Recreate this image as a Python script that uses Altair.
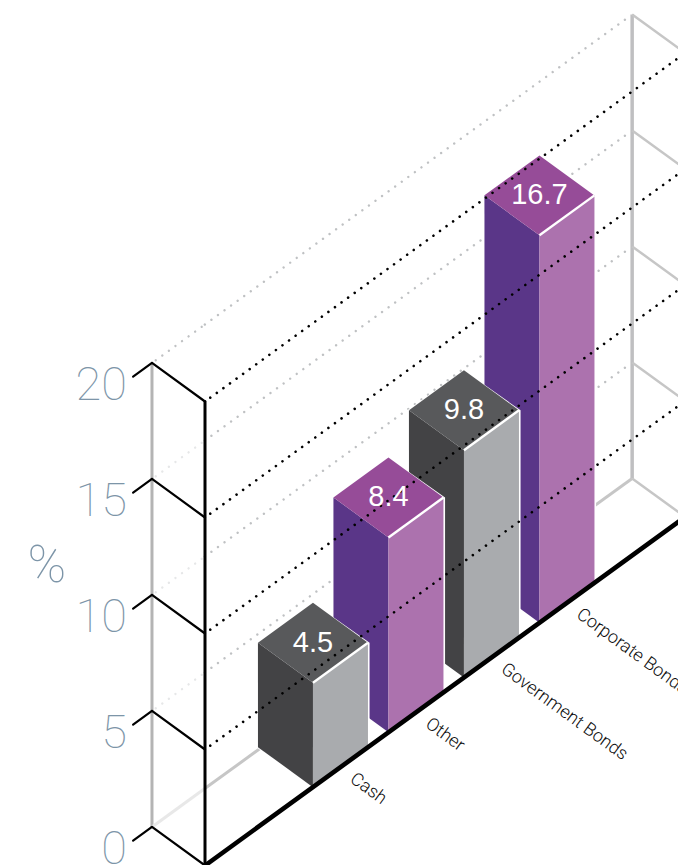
import altair as alt
import pandas as pd

# Chart values
categories = ["Cash", "Other", "Government Bonds", "Corporate Bonds"]
values = [4.5, 8.4, 9.8, 16.7]
value_labels = ["4.5", "8.4", "9.8", "16.7"]
axis_ticks = [0, 5, 10, 15, 20]
grid_levels = [5, 10, 15, 20]
bar_families = ["grey", "purple", "grey", "purple"]
face_colours = {
    "grey": {"left": "#434345", "right": "#a9abae", "top": "#58595b"},
    "purple": {"left": "#5a3688", "right": "#ac72ae", "top": "#964c98"},
}

# Oblique projection: pixels per category step, per percent, and per unit of depth
W, H = 678, 865
STEP_X, STEP_Y = 75.5, 54.8
UNIT_Y = 23.2
DEPTH_X, DEPTH_Y = 55.0, 40.0
ORIGIN_X, ORIGIN_Y = 205.0, 865.5
BAR_START = 1.43
BAR_WIDTH = DEPTH_X / STEP_X
WALL_DEPTH = 0.964
WALL_LENGTH = 6.36


def project(c, d, v):
    """Map (position along the front edge, depth, percent) to plane coordinates."""
    return c - d * DEPTH_X / STEP_X, v + (c * STEP_Y + d * DEPTH_Y) / UNIT_Y


x_scale = alt.Scale(domain=[-ORIGIN_X / STEP_X, (W - ORIGIN_X) / STEP_X], range=[0, W], nice=False, zero=False)
y_scale = alt.Scale(domain=[(ORIGIN_Y - H) / UNIT_Y, ORIGIN_Y / UNIT_Y], range=[H, 0], nice=False, zero=False)
x_enc = alt.X("x:Q", scale=x_scale, axis=None)
y_enc = alt.Y("y:Q", scale=y_scale, axis=None)


def segment(p, q, colour, width):
    x, y = project(*p)
    x2, y2 = project(*q)
    return {"x": x, "y": y, "x2": x2, "y2": y2, "colour": colour, "width": width}


def rules(segments, **mark_args):
    return alt.Chart(pd.DataFrame(segments)).mark_rule(**mark_args).encode(
        x=x_enc,
        y=y_enc,
        x2="x2:Q",
        y2="y2:Q",
        color=alt.Color("colour:N", scale=None),
        strokeWidth=alt.StrokeWidth("width:Q", scale=None),
    )


# Dotted grid on the back wall, fainter in front of the axis corner
back_dots = []
for v in grid_levels:
    left_colour = "#bfc1c3" if v == 20 else "#e6e7e8"
    back_dots.append(segment((0.05, WALL_DEPTH, v), (0.70, WALL_DEPTH, v), left_colour, 2.4))
    back_dots.append(segment((0.70, WALL_DEPTH, v), (6.27, WALL_DEPTH, v), "#bfc1c3", 2.4))

# Solid grey wall frame
wall_lines = [
    segment((0, WALL_DEPTH, 0), (0, WALL_DEPTH, 20), "#b4b4b4", 3),
    segment((WALL_LENGTH, WALL_DEPTH, 0), (WALL_LENGTH, WALL_DEPTH, 20), "#bfbfc1", 3.5),
    segment((0, WALL_DEPTH, 0), (0.70, WALL_DEPTH, 0), "#e8e8e8", 3),
    segment((0.70, WALL_DEPTH, 0), (WALL_LENGTH, WALL_DEPTH, 0), "#c6c6c6", 3),
]
for v in axis_ticks:
    wall_lines.append(segment((WALL_LENGTH, WALL_DEPTH, v), (WALL_LENGTH, 0, v), "#c6c6c6", 2.5))

# Bar faces, far bar first so nearer bars overlap it
face_rows = []
edge_lines = []


def add_face(face, fill, columns):
    """One area per face: each column holds an upper point, a lower point and an x nudge."""
    for upper, lower, nudge in columns:
        x, y = project(*upper)
        _, y2 = project(*lower)
        face_rows.append({"x": x + nudge, "y": y, "y2": y2, "face": face, "fill": fill})


halo = 1.6 / STEP_X
for i in reversed(range(len(values))):
    c0 = BAR_START + i
    c1 = c0 + BAR_WIDTH
    v = values[i]
    palette = face_colours[bar_families[i]]
    key = len(values) - i

    # White halo around the silhouette
    add_face(f"{key}-a", "#ffffff", [
        ((c0, 1, v), (c0, 1, 0), -halo),
        ((c1, 1, v), (c0, 0, 0), 0),
        ((c1, 0, v), (c1, 0, 0), halo),
    ])
    add_face(f"{key}-b", palette["left"], [
        ((c0, 1, v), (c0, 1, 0), 0),
        ((c0, 0, v), (c0, 0, 0), 0),
    ])
    add_face(f"{key}-c", palette["right"], [
        ((c0, 0, v), (c0, 0, 0), 0),
        ((c1, 0, v), (c1, 0, 0), 0),
    ])
    add_face(f"{key}-d", palette["top"], [
        ((c0, 1, v), (c0, 1, v), 0),
        ((c1, 1, v), (c0, 0, v), 0),
        ((c1, 0, v), (c1, 0, v), 0),
    ])
    edge_lines.append(segment((c0, 0, v), (c1, 0, v), "#ffffff", 2.4))

faces = alt.Chart(pd.DataFrame(face_rows)).mark_area(interpolate="linear", opacity=1).encode(
    x=x_enc,
    y=y_enc,
    y2="y2:Q",
    color=alt.Color("fill:N", scale=None),
    detail="face:N",
)

# Black dotted levels running across the whole chart, over the bars
front_dots = [segment((0.07, 0, v), (6.4, 0, v), "#000000", 2.6) for v in grid_levels]

# Black frame: front axis, base line and the chevron at every tick
black_lines = [
    segment((0, 0, 0), (0, 0, 20), "#000000", 3),
    segment((0, 0, 0), (WALL_LENGTH, 0, 0), "#000000", 4.6),
]
for v in axis_ticks:
    black_lines.append(segment((-0.25, WALL_DEPTH, v), (0, WALL_DEPTH, v), "#000000", 2.2))
    black_lines.append(segment((0, WALL_DEPTH, v), (0, 0, v), "#000000", 2.2))

# Text layers
tick_positions = [project(0, WALL_DEPTH, v) for v in axis_ticks]
tick_frame = pd.DataFrame({
    "x": [p[0] for p in tick_positions],
    "y": [p[1] for p in tick_positions],
    "label": [str(v) for v in axis_ticks],
})
tick_text = alt.Chart(tick_frame).mark_text(
    font="Roboto", fontWeight=100, fontSize=47, color="#7d95a8", align="right", baseline="middle", dx=-25, dy=23
).encode(x=x_enc, y=y_enc, text="label:N")

unit_text = alt.Chart(pd.DataFrame({"label": ["%"]})).mark_text(
    font="Roboto", fontWeight=100, fontSize=52, color="#7d95a8", align="center", baseline="middle"
).encode(x=alt.value(47), y=alt.value(566), text="label:N")

top_centres = [project(BAR_START + i + BAR_WIDTH / 2, 0.5, v) for i, v in enumerate(values)]
value_frame = pd.DataFrame({
    "x": [p[0] for p in top_centres],
    "y": [p[1] for p in top_centres],
    "label": value_labels,
})
value_text = alt.Chart(value_frame).mark_text(
    font="Liberation Sans", fontSize=29, color="#ffffff", align="center", baseline="middle"
).encode(x=x_enc, y=y_enc, text="label:N")

base_points = [project(BAR_START + i, 0, 0) for i in range(len(categories))]
category_frame = pd.DataFrame({
    "x": [p[0] for p in base_points],
    "y": [p[1] for p in base_points],
    "label": categories,
})
category_text = alt.Chart(category_frame).mark_text(
    font="Roboto", fontWeight=300, fontSize=18, color="#0d0d0d", align="left", baseline="middle",
    angle=36, dx=25.6, dy=-31,
).encode(x=x_enc, y=y_enc, text="label:N")

chart = alt.layer(
    rules(back_dots, strokeDash=[0.01, 8.1], strokeCap="round"),
    rules(wall_lines),
    faces,
    rules(edge_lines),
    rules(front_dots, strokeDash=[0.01, 8.1], strokeCap="round"),
    rules(black_lines, strokeCap="round"),
    tick_text,
    unit_text,
    value_text,
    category_text,
).properties(
    width=W, height=H, padding=0, autosize=alt.AutoSizeParams(type="none"),
).configure_view(stroke=None)

chart.save("out.html", embed_options={"renderer": "svg", "actions": False})
